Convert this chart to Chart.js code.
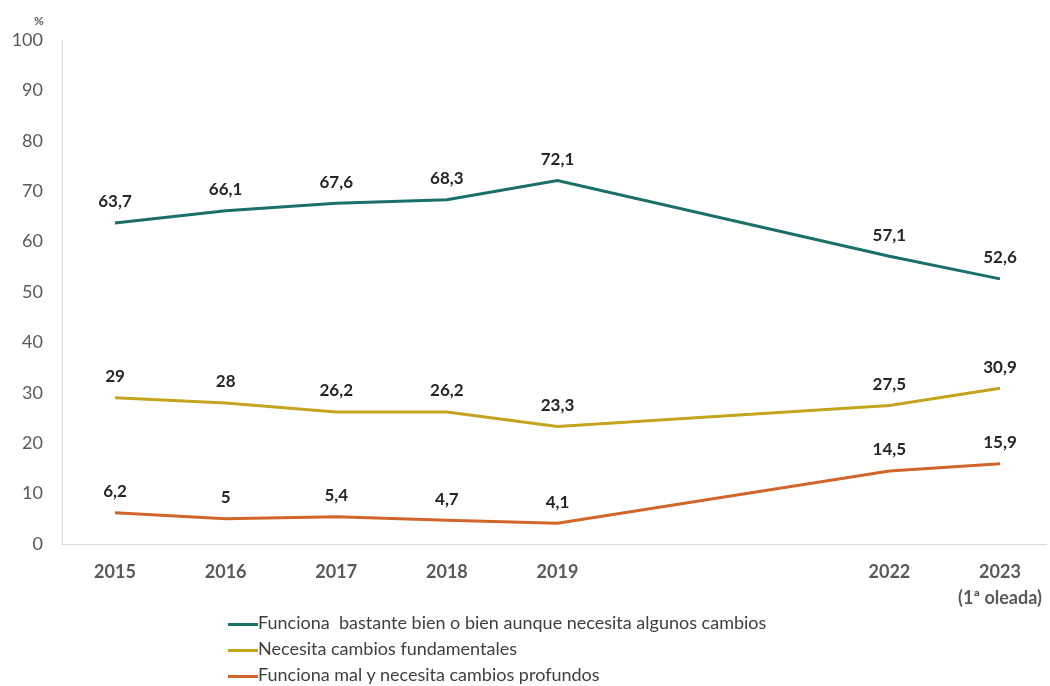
<!DOCTYPE html>
<html lang="es">
<head>
<meta charset="utf-8">
<title>Valoración del funcionamiento</title>
<script src="https://cdn.jsdelivr.net/npm/chart.js@4.4.1/dist/chart.umd.min.js"></script>
<style>
  html, body { margin: 0; padding: 0; background: #fff; }
  #wrap { position: relative; width: 1050px; height: 686px; }
  #legend {
    position: absolute; left: 228px; top: 609px;
    font-family: Lato, 'Noto Sans', sans-serif; font-size: 18px; color: #404040;
  }
  #legend .row { height: 26px; line-height: 26px; white-space: pre; }
  #legend .mark { display: inline-block; width: 30px; height: 3px; vertical-align: middle; }
</style>
</head>
<body>
<div id="wrap">
  <canvas id="chart" width="1050" height="686"></canvas>
  <div id="legend"></div>
</div>
<script>
// ===== DATA =====
const years = [2015, 2016, 2017, 2018, 2019, 2022, 2023];
const bienValues = [63.7, 66.1, 67.6, 68.3, 72.1, 57.1, 52.6];
const fundamentalesValues = [29, 28, 26.2, 26.2, 23.3, 27.5, 30.9];
const malValues = [6.2, 5, 5.4, 4.7, 4.1, 14.5, 15.9];
const seriesLabels = [
  'Funciona  bastante bien o bien aunque necesita algunos cambios',
  'Necesita cambios fundamentales',
  'Funciona mal y necesita cambios profundos'
];
const yTicks = [0, 10, 20, 30, 40, 50, 60, 70, 80, 90, 100];
const lastYearNote = '(1ª oleada)';

const COLORS = ['#1b6f69', '#c4a41c', '#d2662a'];
const FONT = "Lato, 'Noto Sans', sans-serif";

const datasets = [bienValues, fundamentalesValues, malValues].map((vals, i) => ({
  label: seriesLabels[i],
  data: vals.map((v, j) => ({ x: years[j], y: v })),
  borderColor: COLORS[i],
  backgroundColor: COLORS[i],
  borderWidth: 3,
  pointRadius: 0,
  tension: 0,
}));

// value labels above each point, plus the "%" unit label
const valueLabels = {
  id: 'valueLabels',
  afterDatasetsDraw(chart) {
    const ctx = chart.ctx;
    ctx.save();
    ctx.font = 'bold 17px ' + FONT;
    ctx.fillStyle = '#262626';
    ctx.textAlign = 'center';
    ctx.textBaseline = 'middle';
    chart.data.datasets.forEach((ds, i) => {
      chart.getDatasetMeta(i).data.forEach((pt, j) => {
        const txt = String(ds.data[j].y).replace('.', ',');
        ctx.fillText(txt, pt.x, pt.y - 21);
      });
    });
    ctx.font = 'bold 12px ' + FONT;
    ctx.fillStyle = '#595959';
    ctx.fillText('%', chart.chartArea.left - 23, chart.chartArea.top - 19);
    ctx.restore();
  }
};

const pxPerYear = (1000 - 115) / 8;

new Chart(document.getElementById('chart'), {
  type: 'line',
  data: { datasets },
  options: {
    responsive: false,
    animation: false,
    layout: { padding: { top: 40, right: 4, bottom: 76, left: 0 } },
    plugins: { legend: { display: false }, tooltip: { enabled: false } },
    scales: {
      x: {
        type: 'linear',
        min: 2015 - 53 / pxPerYear,
        max: 2023 + 46 / pxPerYear,
        afterBuildTicks: axis => { axis.ticks = years.map(v => ({ value: v })); },
        afterFit: axis => {
          axis.height = 66;
          axis.paddingLeft = 0;
          axis.paddingRight = 0;
        },
        grid: { display: false, drawTicks: false },
        border: { display: true, color: '#d9d9d9', width: 1 },
        ticks: {
          autoSkip: false, maxRotation: 0, padding: 15,
          color: '#595959',
          font: { family: FONT, size: 18, weight: 'bold', lineHeight: 1.45 },
          callback: v => v === years[years.length - 1] ? [String(v), lastYearNote] : String(v)
        }
      },
      y: {
        min: 0, max: 100,
        afterBuildTicks: axis => { axis.ticks = yTicks.map(v => ({ value: v })); },
        afterFit: axis => { axis.width = 62; },
        grid: { display: false, drawTicks: false },
        border: { display: true, color: '#d9d9d9', width: 1 },
        ticks: { padding: 19, color: '#595959', font: { family: FONT, size: 18 } }
      }
    }
  },
  plugins: [valueLabels]
});

// ===== LEGEND (one row per series) =====
const legendEl = document.getElementById('legend');
seriesLabels.forEach((lab, i) => {
  const row = document.createElement('div');
  row.className = 'row';
  const mark = document.createElement('span');
  mark.className = 'mark';
  mark.style.background = COLORS[i];
  row.appendChild(mark);
  row.appendChild(document.createTextNode(lab));
  legendEl.appendChild(row);
});
</script>
</body>
</html>
